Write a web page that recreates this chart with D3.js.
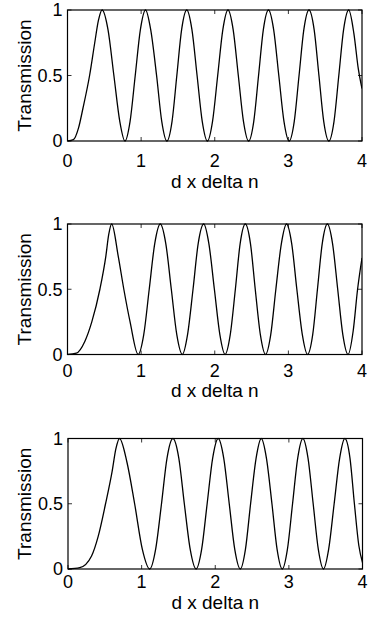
<!DOCTYPE html>
<html>
<head>
<meta charset="utf-8">
<script src="https://cdn.jsdelivr.net/npm/d3@7"></script>
<style>
  html, body { margin: 0; padding: 0; background: #fff; }
  svg { display: block; }
  text { font-family: "Liberation Sans", Arial, Helvetica, sans-serif; fill: #000; }
</style>
</head>
<body>
<svg id="chart" width="369" height="619"></svg>
<script>
// ---- data ----
const xLabel = "d x delta n";
const yLabel = "Transmission";
const xTicks = [0, 1, 2, 3, 4];
const yTicks = [0, 0.5, 1];
const yTickLabels = ["0", "0.5", "1"];

const panel1X = [0,0.08,0.15,0.21,0.30,0.37,0.42,0.47,0.55,0.63,0.71,0.78,
  0.85,0.92,0.99,1.06,1.13,1.21,1.28,1.35,1.42,1.485,1.55,1.62,1.69,1.76,1.83,1.90,
  1.97,2.04,2.11,2.18,2.25,2.32,2.39,2.46,2.53,2.595,2.66,2.73,2.80,2.87,2.94,3.01,
  3.08,3.145,3.21,3.28,3.35,3.415,3.48,3.55,3.62,3.685,3.75,3.82,3.89,3.95,4.0];
const panel1T = [0,0.01,0.10,0.25,0.50,0.75,0.92,1,0.85,0.50,0.15,0,
  0.15,0.50,0.85,1,0.85,0.50,0.15,0,0.15,0.50,0.85,1,0.85,0.50,0.15,0,
  0.15,0.50,0.85,1,0.85,0.50,0.15,0,0.15,0.50,0.85,1,0.85,0.50,0.15,0,
  0.15,0.50,0.85,1,0.85,0.50,0.15,0,0.15,0.50,0.85,1,0.82,0.55,0.40];

const panel2X = [0,0.12,0.235,0.33,0.44,0.52,0.56,0.60,0.69,0.765,0.85,0.96,
  1.035,1.11,1.185,1.26,1.335,1.41,1.485,1.56,1.63,1.705,1.775,1.85,1.92,1.995,2.07,2.14,
  2.21,2.28,2.345,2.415,2.485,2.55,2.62,2.69,2.76,2.83,2.905,2.975,3.045,3.115,3.19,3.26,
  3.33,3.395,3.46,3.53,3.60,3.67,3.74,3.81,3.88,3.94,4.0];
const panel2T = [0,0.01,0.10,0.25,0.50,0.75,0.92,1,0.75,0.50,0.25,0,
  0.15,0.50,0.85,1,0.85,0.50,0.15,0,0.15,0.50,0.85,1,0.85,0.50,0.15,0,
  0.15,0.50,0.85,1,0.85,0.50,0.15,0,0.15,0.50,0.85,1,0.85,0.50,0.15,0,
  0.15,0.50,0.85,1,0.85,0.50,0.15,0,0.18,0.50,0.74];

const panel3X = [0,0.16,0.32,0.41,0.51,0.60,0.65,0.70,0.80,0.905,1.01,1.11,
  1.19,1.27,1.345,1.425,1.505,1.58,1.66,1.74,1.815,1.89,1.965,2.04,2.115,2.19,2.265,2.34,
  2.41,2.48,2.555,2.625,2.695,2.77,2.84,2.91,2.98,3.05,3.12,3.19,3.26,3.33,3.40,3.47,
  3.54,3.615,3.69,3.76,3.83,3.89,3.95,4.0];
const panel3T = [0,0.01,0.10,0.25,0.50,0.75,0.92,1,0.82,0.50,0.15,0,
  0.15,0.50,0.85,1,0.85,0.50,0.15,0,0.15,0.50,0.85,1,0.85,0.50,0.15,0,
  0.15,0.50,0.85,1,0.85,0.50,0.15,0,0.15,0.50,0.85,1,0.85,0.50,0.15,0,
  0.15,0.50,0.85,1,0.85,0.50,0.18,0.05];

// ---- layout ----
const panels = [
  { xs: panel1X, ts: panel1T, left: 67.5, right: 362, top: 10, bottom: 141, tickBase: 167, labelBase: 188 },
  { xs: panel2X, ts: panel2T, left: 67.5, right: 362, top: 224, bottom: 354.5, tickBase: 377, labelBase: 397 },
  { xs: panel3X, ts: panel3T, left: 68, right: 362.5, top: 438.5, bottom: 569, tickBase: 588, labelBase: 609 }
];

const svg = d3.select("#chart");
svg.append("rect").attr("width", 369).attr("height", 619).attr("fill", "#fff");

panels.forEach((p, i) => {
  const x = d3.scaleLinear().domain([0, 4]).range([p.left, p.right]);
  const y = d3.scaleLinear().domain([0, 1]).range([p.bottom, p.top]);
  const g = svg.append("g");

  const clipId = "clip" + i;
  g.append("clipPath").attr("id", clipId)
    .append("rect").attr("x", p.left).attr("y", p.top - 1)
    .attr("width", p.right - p.left).attr("height", p.bottom - p.top + 2);

  // curve
  const pts = p.xs.map((v, k) => [v, p.ts[k]]);
  const line = d3.line().x(d => x(d[0])).y(d => y(d[1])).curve(d3.curveMonotoneX);
  g.append("path").datum(pts)
    .attr("clip-path", `url(#${clipId})`)
    .attr("d", line)
    .attr("fill", "none").attr("stroke", "#000").attr("stroke-width", 1.3);

  // inward ticks
  const tl = 4;
  xTicks.forEach(t => {
    g.append("line").attr("x1", x(t)).attr("x2", x(t)).attr("y1", p.bottom).attr("y2", p.bottom - tl).attr("stroke", "#000").attr("stroke-width", 0.8);
    g.append("line").attr("x1", x(t)).attr("x2", x(t)).attr("y1", p.top).attr("y2", p.top + tl).attr("stroke", "#000").attr("stroke-width", 0.8);
  });
  yTicks.forEach(t => {
    g.append("line").attr("x1", p.left).attr("x2", p.left + tl).attr("y1", y(t)).attr("y2", y(t)).attr("stroke", "#000").attr("stroke-width", 0.8);
    g.append("line").attr("x1", p.right).attr("x2", p.right - tl).attr("y1", y(t)).attr("y2", y(t)).attr("stroke", "#000").attr("stroke-width", 0.8);
  });

  // frame
  g.append("rect").attr("x", p.left).attr("y", p.top)
    .attr("width", p.right - p.left).attr("height", p.bottom - p.top)
    .attr("fill", "none").attr("stroke", "#000").attr("stroke-width", 1.2);

  // x tick labels
  g.selectAll(".xt").data(xTicks).enter().append("text")
    .attr("x", d => x(d)).attr("y", p.tickBase)
    .attr("text-anchor", "middle").attr("font-size", 18)
    .text(d => d);

  // y tick labels
  g.selectAll(".yt").data(yTicks).enter().append("text")
    .attr("x", p.left - 5).attr("y", d => y(d))
    .attr("dy", "0.36em")
    .attr("text-anchor", "end").attr("font-size", 18)
    .text((d, k) => yTickLabels[k]);

  // axis labels
  g.append("text").attr("x", (p.left + p.right) / 2).attr("y", p.labelBase)
    .attr("text-anchor", "middle").attr("font-size", 19).text(xLabel);
  g.append("text")
    .attr("transform", `translate(31,${(p.top + p.bottom) / 2}) rotate(-90)`)
    .attr("text-anchor", "middle").attr("font-size", 19).text(yLabel);
});
</script>
</body>
</html>
